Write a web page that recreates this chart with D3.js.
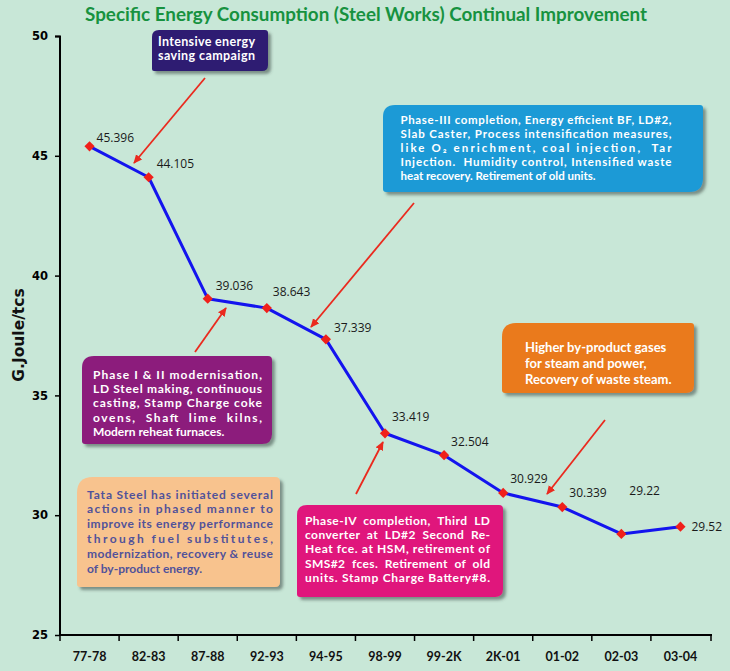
<!DOCTYPE html>
<html><head><meta charset="utf-8">
<script src="https://cdn.jsdelivr.net/npm/d3@7"></script>
<style>
html,body{margin:0;padding:0;background:#c8e7d7;}
svg{display:block;}
</style></head>
<body>
<svg id="chart" width="730" height="671"></svg>
<script>
// ---- data ----
const categories = ["77-78","82-83","87-88","92-93","94-95","98-99","99-2K","2K-01","01-02","02-03","03-04"];
const values = [45.396,44.105,39.036,38.643,37.339,33.419,32.504,30.929,30.339,29.22,29.52];
const valueLabels = ["45.396","44.105","39.036","38.643","37.339","33.419","32.504","30.929","30.339","29.22","29.52"];
const yTicks = [25,30,35,40,45,50];
const titleText = "Specific Energy Consumption (Steel Works) Continual Improvement";
const yTitle = "G.Joule/tcs";

// ---- layout (not data) ----
const labelOffsets = [[7,-4],[8,-9],[8,-9],[6,-12],[8,-7],[7,-12],[7,-9],[7,-10],[7,-10],[8,-39],[11,4]];
const notes = [
  {x:152,y:30,w:116,h:41,r:[7,3,6,2],fill:"#2d1d72",color:"#fff",size:12.5,tx:158,ty:46,lh:14,tw:97,
   lines:["Intensive energy","saving campaign"],justify:2},
  {x:383,y:105,w:320,h:87,r:[12,3,14,3],fill:"#1b9ad6",color:"#fff",size:11.5,tx:400.5,ty:123.5,lh:14.2,tw:271,
   lines:["Phase-III completion, Energy efficient BF, LD#2,","Slab Caster, Process intensification measures,","like O\u2082 enrichment, coal injection,  Tar","Injection.  Humidity control, Intensified waste","heat recovery. Retirement of old units."],justify:4},
  {x:82,y:356,w:190,h:88,r:[12,4,10,3],fill:"#8c1c7c",color:"#fff",size:12,tx:93,ty:378.5,lh:14.4,tw:169,
   lines:["Phase I & II modernisation,","LD Steel making, continuous","casting, Stamp Charge coke","ovens,  Shaft  lime  kilns,","Modern reheat furnaces."],justify:4},
  {x:77,y:477,w:203,h:110,r:[16,5,5,3],fill:"#f8c38e",color:"#51529a",size:12,tx:87,ty:498.5,lh:14.9,tw:186,
   lines:["Tata Steel has initiated several","actions in phased manner to","improve its energy performance","through fuel substitutes,","modernization, recovery & reuse","of by-product energy."],justify:5},
  {x:297,y:505,w:206,h:92,r:[10,4,8,3],fill:"#e0147c",color:"#fff",size:12,tx:305,ty:525,lh:14.2,tw:185,
   lines:["Phase-IV  completion,  Third  LD","converter  at  LD#2  Second  Re-","Heat fce. at HSM, retirement of","SMS#2  fces.  Retirement  of  old","units. Stamp Charge Battery#8."],justify:5},
  {x:502,y:323,w:192,h:70,r:[14,3,8,3],fill:"#ea7a1c",color:"#fff",size:13,tx:525,ty:351.5,lh:16.4,tw:0,
   lines:["Higher by-product gases","for steam and power,","Recovery of waste steam."],justify:0}
];
const arrows = [[205,78,134,163],[195,352,226,308],[414,203,311,327],[356,494,383,442],[605,420,547,494]];

// ---- chart ----
const svg = d3.select("#chart");
const defs = svg.append("defs");
const f = defs.append("filter").attr("id","sh").attr("x","-10%").attr("y","-10%").attr("width","130%").attr("height","140%");
f.append("feDropShadow").attr("dx",3).attr("dy",3).attr("stdDeviation",1.6).attr("flood-color","#3a4a42").attr("flood-opacity",0.55);
defs.append("marker").attr("id","ah").attr("viewBox","0 0 10 10").attr("refX",9).attr("refY",5)
  .attr("markerWidth",5).attr("markerHeight",5).attr("orient","auto").attr("markerUnits","strokeWidth")
  .append("path").attr("d","M0,0.5 L10,5 L0,9.5 z").attr("fill","#ea2a1e");

svg.append("rect").attr("width",730).attr("height",671).attr("fill","#c8e7d7");

const x = d3.scaleBand().domain(categories).range([60,710]).padding(0);
const y = d3.scaleLinear().domain([25,50]).range([635,36]);

// title
svg.append("text").attr("x",366).attr("y",21).attr("text-anchor","middle")
  .attr("font-family","Lato").attr("font-weight","bold").attr("font-size",18)
  .attr("fill","#17923f").attr("textLength",562).attr("lengthAdjust","spacingAndGlyphs").text(titleText);

// y title
svg.append("text").attr("transform","translate(24,335) rotate(-90)").attr("text-anchor","middle")
  .attr("font-family","DejaVu Sans").attr("font-weight","bold").attr("font-size",15.5)
  .attr("fill","#111").text(yTitle);

// y axis
const yAxis = svg.append("g").attr("transform","translate(60,0)")
  .call(d3.axisLeft(y).tickValues(yTicks).tickSize(5).tickPadding(7).tickFormat(d3.format("d")));
yAxis.select(".domain").attr("stroke","#000").attr("stroke-width",2).attr("d","M-5,36.5H0V635");
yAxis.selectAll(".tick line").attr("stroke","#000").attr("stroke-width",1.5);
yAxis.selectAll(".tick text").attr("font-family","DejaVu Sans").attr("font-weight","bold").attr("font-size",11.5).attr("fill","#000");

// x axis
const xAxis = svg.append("g").attr("transform","translate(0,635)")
  .call(d3.axisBottom(x).tickSize(0).tickPadding(17));
xAxis.select(".domain").attr("stroke","#000").attr("stroke-width",2).attr("d","M59,0H712");
xAxis.selectAll(".tick text").attr("font-family","Lato").attr("font-weight","bold").attr("font-size",12.5).attr("fill","#111");
xAxis.selectAll(".bt").data(d3.range(categories.length+1)).enter().append("line")
  .attr("x1",i=>60+i*x.step()+(i===categories.length?1:0)).attr("x2",i=>60+i*x.step()+(i===categories.length?1:0))
  .attr("y1",0).attr("y2",6).attr("stroke","#000").attr("stroke-width",1.5);

// annotation boxes
function rpath(x0,y0,w,h,r){
  const [tl,tr,br,bl]=r;
  return `M${x0+tl},${y0}H${x0+w-tr}Q${x0+w},${y0} ${x0+w},${y0+tr}V${y0+h-br}Q${x0+w},${y0+h} ${x0+w-br},${y0+h}`+
    `H${x0+bl}Q${x0},${y0+h} ${x0},${y0+h-bl}V${y0+tl}Q${x0},${y0} ${x0+tl},${y0}Z`;
}
const ng = svg.append("g");
notes.forEach(n=>{
  const g = ng.append("g");
  g.append("path").attr("d",rpath(n.x,n.y,n.w,n.h,n.r)).attr("fill",n.fill).attr("filter","url(#sh)");
  n.lines.forEach((l,i)=>{
    const t = g.append("text").attr("x",n.tx).attr("y",n.ty+i*n.lh)
      .attr("font-family","Lato").attr("font-weight","bold").attr("font-size",n.size)
      .attr("fill",n.color).attr("xml:space","preserve").style("white-space","pre").text(l);
    if(i<n.justify) t.attr("textLength",n.tw).attr("lengthAdjust","spacing");
  });
});

// arrows
svg.append("g").selectAll("line").data(arrows).enter().append("line")
  .attr("x1",d=>d[0]).attr("y1",d=>d[1]).attr("x2",d=>d[2]).attr("y2",d=>d[3])
  .attr("stroke","#ea2a1e").attr("stroke-width",1.8).attr("marker-end","url(#ah)");

// line
const cx = (d,i)=>x(categories[i])+x.bandwidth()/2;
svg.append("path").datum(values)
  .attr("d",d3.line().x((d,i)=>cx(d,i)).y(d=>y(d)))
  .attr("fill","none").attr("stroke","#1414ee").attr("stroke-width",3).attr("stroke-linejoin","round");

svg.append("g").selectAll("path").data(values).enter().append("path")
  .attr("d",d3.symbol().type(d3.symbolSquare).size(52))
  .attr("transform",(d,i)=>`translate(${cx(d,i)},${y(d)}) rotate(45)`)
  .attr("fill","#f0201a");

svg.append("g").selectAll("text").data(values).enter().append("text")
  .attr("x",(d,i)=>cx(d,i)+labelOffsets[i][0]).attr("y",(d,i)=>y(d)+labelOffsets[i][1])
  .attr("font-family","Open Sans").attr("font-size",12).attr("fill","#1a1a1a")
  .text((d,i)=>valueLabels[i]);
</script>
</body></html>
